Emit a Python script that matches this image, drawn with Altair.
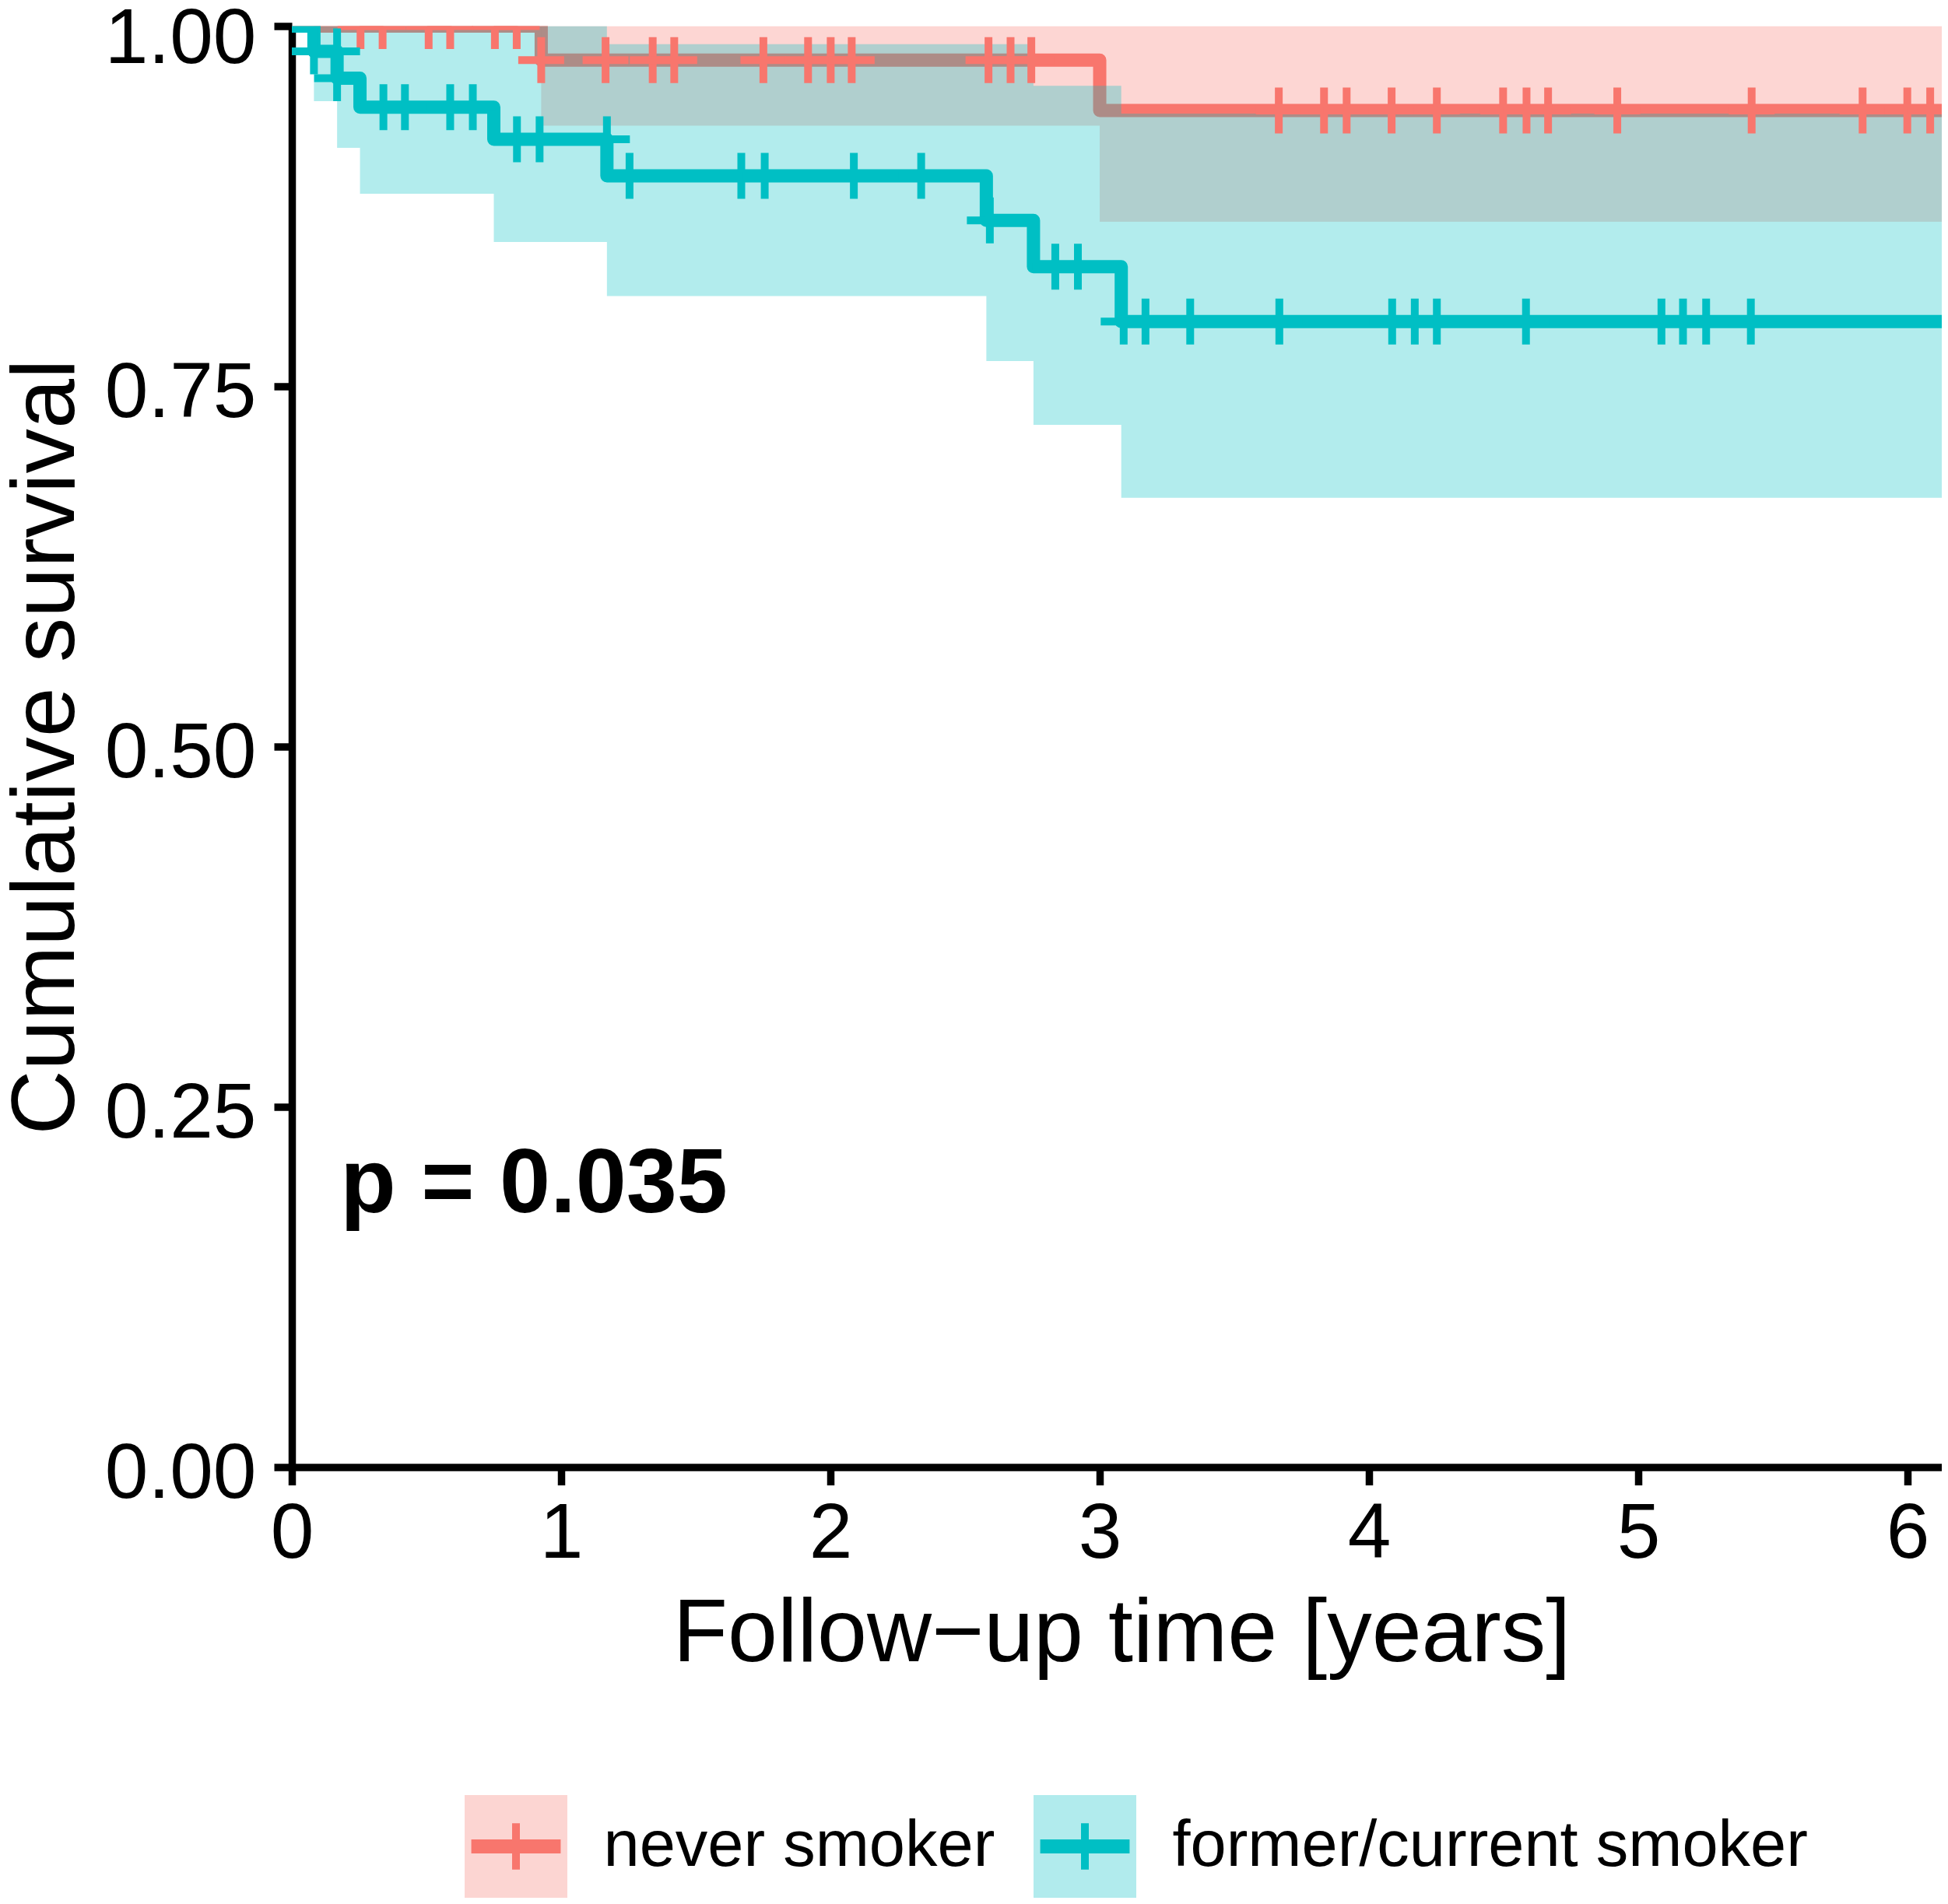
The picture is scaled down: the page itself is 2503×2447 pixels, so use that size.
import altair as alt
import pandas as pd

# ---------------- data ----------------
groups = ["never smoker", "former/current smoker"]
colors = ["#F8766D", "#00BFC4"]

# Kaplan-Meier steps (time in years, survival, 95% CI)
never_time = [0.0, 0.926, 3.000, 6.20]
never_surv = [1.0, 0.9764, 0.9414, 0.9414]
never_lower = [1.0, 0.9309, 0.8642, 0.8642]
never_upper = [1.0, 1.0, 1.0, 1.0]

former_time = [0.0, 0.082, 0.168, 0.253, 0.750, 1.170, 2.579, 2.754, 3.080, 6.20]
former_surv = [1.0, 0.9825, 0.9638, 0.9437, 0.9214, 0.8960, 0.8651, 0.8330, 0.7949, 0.7949]
former_lower = [1.0, 0.9479, 0.9155, 0.8836, 0.8501, 0.8126, 0.7676, 0.7233, 0.6726, 0.6726]
former_upper = [1.0, 1.0, 1.0, 1.0, 1.0, 0.9875, 0.9875, 0.9585, 0.9392, 0.9392]

# censoring marks
never_cens_time = [0.255, 0.337, 0.508, 0.588, 0.754, 0.835,
                   0.926, 1.165, 1.340, 1.420, 1.751, 1.917, 2.001, 2.079, 2.587, 2.669, 2.746,
                   3.665, 3.833, 3.917, 4.084, 4.252, 4.498, 4.585, 4.665, 4.922, 5.421, 5.833,
                   5.999, 6.084]
never_cens_surv = [1.0, 1.0, 1.0, 1.0, 1.0, 1.0,
                   0.9764, 0.9764, 0.9764, 0.9764, 0.9764, 0.9764, 0.9764, 0.9764, 0.9764,
                   0.9764, 0.9764,
                   0.9414, 0.9414, 0.9414, 0.9414, 0.9414, 0.9414, 0.9414, 0.9414, 0.9414,
                   0.9414, 0.9414, 0.9414, 0.9414]

former_cens_time = [0.082, 0.168, 0.168, 0.340, 0.420, 0.588, 0.672, 0.836, 0.920, 1.170,
                    1.254, 1.669, 1.756, 2.087, 2.337, 2.592, 2.835, 2.919,
                    3.089, 3.170, 3.336, 3.667, 4.086, 4.170, 4.252, 4.583, 5.086, 5.166,
                    5.252, 5.418]
former_cens_surv = [0.9825, 0.9825, 0.9638, 0.9437, 0.9437, 0.9437, 0.9437, 0.9214, 0.9214,
                    0.9214, 0.8960, 0.8960, 0.8960, 0.8960, 0.8960, 0.8651, 0.8330, 0.8330,
                    0.7949, 0.7949, 0.7949, 0.7949, 0.7949, 0.7949, 0.7949, 0.7949, 0.7949,
                    0.7949, 0.7949, 0.7949]

pval_text = ["p = 0.035"]
pval_x = [0.18]
pval_y = [0.1768]

x_ticks = [0, 1, 2, 3, 4, 5, 6]
y_ticks = [0.0, 0.25, 0.5, 0.75, 1.0]

# ---------------- tables ----------------
curves = pd.concat([
    pd.DataFrame({"time": never_time, "surv": never_surv, "lower": never_lower,
                  "upper": never_upper, "grp": groups[0]}),
    pd.DataFrame({"time": former_time, "surv": former_surv, "lower": former_lower,
                  "upper": former_upper, "grp": groups[1]}),
], ignore_index=True)

cens = pd.concat([
    pd.DataFrame({"time": never_cens_time, "surv": never_cens_surv, "grp": groups[0]}),
    pd.DataFrame({"time": former_cens_time, "surv": former_cens_surv, "grp": groups[1]}),
], ignore_index=True)

pv = pd.DataFrame({"time": pval_x, "surv": pval_y, "label": pval_text})

FONT = "Liberation Sans"
W, H = 2120, 1852
xscale = alt.Scale(domain=[0, 6.127], nice=False, zero=False)
yscale = alt.Scale(domain=[0, 1], nice=False)

xaxis = alt.Axis(values=x_ticks, format="d", labelPadding=14, titleY=249, titleX=1066,
                 titleBaseline="alphabetic", titleAlign="center")
yaxis = alt.Axis(values=y_ticks, format=".2f", labelPadding=23, titleAngle=270,
                 titleX=-281, titleY=926, titleBaseline="alphabetic", titleAlign="center",
                 labelOffset={"condition": {"test": "datum.value >= 1", "value": 17},
                              "value": 9})

XT = "Follow\u2212up time [years]"
YT = "Cumulative survival"


def xenc(field="time"):
    return alt.X(f"{field}:Q", scale=xscale, axis=xaxis, title=XT)


def yenc(field):
    return alt.Y(f"{field}:Q", scale=yscale, axis=yaxis, title=YT)


stroke_scale = alt.Scale(domain=groups, range=colors)

common_leg = dict(title=None, orient="none", legendX=217, legendY=2268.5,
                  direction="horizontal", symbolSize=17424, symbolStrokeWidth=10,
                  labelFont=FONT, labelFontSize=83, labelOffset=41.5, columnPadding=29,
                  padding=0, labelLimit=3000)

stroke_legend = alt.Legend(
    symbolType="M-1,-1M1,1M-0.87,-0.06H0.87M-0.87,0.06H0.87M0,-0.45V0.45",
    labelColor="black", symbolOpacity=1, **common_leg)
fill_legend = alt.Legend(symbolType="square", symbolStrokeColor="transparent",
                         symbolOpacity=0.3, labelOpacity=0, **common_leg)

line = alt.Chart(curves).mark_line(
    interpolate="step-after", strokeJoin="round", clip=True
).encode(
    x=xenc(), y=yenc("surv"),
    stroke=alt.Stroke("grp:N", scale=stroke_scale, legend=stroke_legend),
    strokeWidth=alt.value(17),
)

band = alt.Chart(curves).mark_area(
    interpolate="step-after", fillOpacity=0.3, clip=True
).encode(
    x=xenc(), y=yenc("lower"), y2="upper:Q",
    fill=alt.Fill("grp:N", scale=alt.Scale(range=colors), sort=groups, legend=fill_legend),
)

points = alt.Chart(cens).mark_point(
    shape="M-1,0H1M0,-1V1", filled=False, size=3481, strokeWidth=10, opacity=1, clip=True
).encode(
    x=xenc(), y=yenc("surv"),
    stroke=alt.Stroke("grp:N", scale=stroke_scale, legend=None),
)

ptext = alt.Chart(pv).mark_text(
    align="left", baseline="alphabetic", font=FONT, fontSize=117, fontWeight="bold",
    color="black"
).encode(x=xenc(), y=yenc("surv"), text="label:N")

chart = alt.layer(line, band, points, ptext).properties(
    width=W, height=H,
    padding={"left": 367, "top": 25.5, "right": 0, "bottom": 553.5},
    autosize=alt.AutoSizeParams(type="none"),
    background="white",
).configure_view(stroke=None).configure_axis(
    grid=False, domainColor="black", domainWidth=9.5, tickColor="black", tickWidth=9.5,
    tickSize=23, labelFont=FONT, labelFontSize=100, labelColor="black", labelFlush=False,
    labelOverlap=False, labelLimit=3000, titleFont=FONT, titleFontSize=115,
    titleFontWeight="normal", titleColor="black", zindex=1,
)

chart.save("out.html", embed_options={"renderer": "svg", "actions": False})
